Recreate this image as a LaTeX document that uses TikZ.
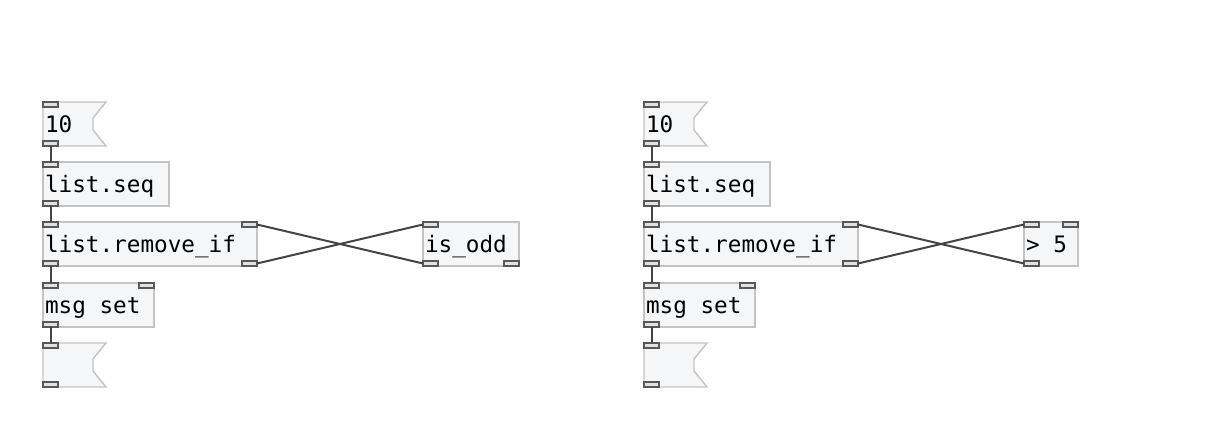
\documentclass[tikz,border=0pt]{standalone}
\usepackage{fontspec}
\setmonofont{DejaVu Sans Mono}
\usetikzlibrary{backgrounds}
\definecolor{boxfill}{HTML}{F5F6F8}
\definecolor{boxline}{HTML}{C4C4C4}
\definecolor{portline}{HTML}{585858}
\definecolor{portfill}{HTML}{E2E2E2}
\definecolor{wirecol}{HTML}{444444}

\begin{document}
\begin{tikzpicture}[
    x=0.75pt, y=-0.75pt,
    font=\ttfamily\fontsize{17}{19}\selectfont,
    obj/.style={
      draw=boxline, fill=boxfill, line width=1.1pt, anchor=north west,
      minimum height=33pt, outer sep=0pt, inner xsep=1.5pt, inner ysep=0pt,
      text height=12.5pt, text depth=0pt, align=left, text width=#1,
      execute at begin node={\spaceskip=0pt\xspaceskip=0pt\relax},
    },
    msg/.style={obj=44.25pt, draw=none, fill=none},
    flag/.style={draw=boxline, fill=boxfill, line width=1.1pt},
    port/.style={
      draw=portline, fill=portfill, line width=1pt,
      minimum width=11.25pt, minimum height=3.75pt, inner sep=0pt, outer sep=0pt,
    },
    wire/.style={draw=wirecol, line width=1.5pt},
  ]
    \useasboundingbox (0,0) rectangle (1207,448);

    % ===== Left patch: list.remove_if with is_odd =====
    \node[msg] (lmsg) at (43,102) {10};
    \node[obj=91.5pt] (lseq) at (43,162) {list.seq};
    \node[obj=157.5pt] (lrem) at (43,222) {list.remove\_if};
    \node[obj=80.25pt] (lset) at (43,283) {msg set};
    \node[msg] (lshow) at (43,343) {};
    \node[obj=69pt] (odd) at (423,222) {is\_odd};

    % ===== Right patch: list.remove_if with > 5 =====
    \node[msg] (rmsg) at (644,102) {10};
    \node[obj=91.5pt] (rseq) at (644,162) {list.seq};
    \node[obj=157.5pt] (rrem) at (644,222) {list.remove\_if};
    \node[obj=80.25pt] (rset) at (644,283) {msg set};
    \node[msg] (rshow) at (644,343) {};
    \node[obj=37.5pt] (gt) at (1024,222) {> 5};

    % ===== Message box flags (behind text) =====
    \begin{scope}[on background layer]
      \filldraw[flag] (lmsg.north west) -- (lmsg.north east) -- ++(-13,16) -- ++(0,12) -- (lmsg.south east) -- (lmsg.south west) -- cycle;
      \filldraw[flag] (lshow.north west) -- (lshow.north east) -- ++(-13,16) -- ++(0,12) -- (lshow.south east) -- (lshow.south west) -- cycle;
      \filldraw[flag] (rmsg.north west) -- (rmsg.north east) -- ++(-13,16) -- ++(0,12) -- (rmsg.south east) -- (rmsg.south west) -- cycle;
      \filldraw[flag] (rshow.north west) -- (rshow.north east) -- ++(-13,16) -- ++(0,12) -- (rshow.south east) -- (rshow.south west) -- cycle;
    \end{scope}

    % ===== Inlets and outlets =====
    \node[port, anchor=north west] (lmsg-i0) at (lmsg.north west) {};
    \node[port, anchor=south west] (lmsg-o0) at (lmsg.south west) {};
    \node[port, anchor=north west] (lseq-i0) at (lseq.north west) {};
    \node[port, anchor=south west] (lseq-o0) at (lseq.south west) {};
    \node[port, anchor=north west] (lrem-i0) at (lrem.north west) {};
    \node[port, anchor=north east] (lrem-i1) at (lrem.north east) {};
    \node[port, anchor=south west] (lrem-o0) at (lrem.south west) {};
    \node[port, anchor=south east] (lrem-o1) at (lrem.south east) {};
    \node[port, anchor=north west] (lset-i0) at (lset.north west) {};
    \node[port, anchor=north east] (lset-i1) at (lset.north east) {};
    \node[port, anchor=south west] (lset-o0) at (lset.south west) {};
    \node[port, anchor=north west] (lshow-i0) at (lshow.north west) {};
    \node[port, anchor=south west] (lshow-o0) at (lshow.south west) {};
    \node[port, anchor=north west] (odd-i0) at (odd.north west) {};
    \node[port, anchor=south west] (odd-o0) at (odd.south west) {};
    \node[port, anchor=south east] (odd-o1) at (odd.south east) {};

    \node[port, anchor=north west] (rmsg-i0) at (rmsg.north west) {};
    \node[port, anchor=south west] (rmsg-o0) at (rmsg.south west) {};
    \node[port, anchor=north west] (rseq-i0) at (rseq.north west) {};
    \node[port, anchor=south west] (rseq-o0) at (rseq.south west) {};
    \node[port, anchor=north west] (rrem-i0) at (rrem.north west) {};
    \node[port, anchor=north east] (rrem-i1) at (rrem.north east) {};
    \node[port, anchor=south west] (rrem-o0) at (rrem.south west) {};
    \node[port, anchor=south east] (rrem-o1) at (rrem.south east) {};
    \node[port, anchor=north west] (rset-i0) at (rset.north west) {};
    \node[port, anchor=north east] (rset-i1) at (rset.north east) {};
    \node[port, anchor=south west] (rset-o0) at (rset.south west) {};
    \node[port, anchor=north west] (rshow-i0) at (rshow.north west) {};
    \node[port, anchor=south west] (rshow-o0) at (rshow.south west) {};
    \node[port, anchor=north west] (gt-i0) at (gt.north west) {};
    \node[port, anchor=north east] (gt-i1) at (gt.north east) {};
    \node[port, anchor=south west] (gt-o0) at (gt.south west) {};

    % ===== Wires =====
    \draw[wire] (lmsg-o0.south) -- (lseq-i0.north);
    \draw[wire] (lseq-o0.south) -- (lrem-i0.north);
    \draw[wire] (lrem-o0.south) -- (lset-i0.north);
    \draw[wire] (lset-o0.south) -- (lshow-i0.north);
    \draw[wire] (lrem-o1.east) -- (odd-i0.west);
    \draw[wire] (odd-o0.west) -- (lrem-i1.east);

    \draw[wire] (rmsg-o0.south) -- (rseq-i0.north);
    \draw[wire] (rseq-o0.south) -- (rrem-i0.north);
    \draw[wire] (rrem-o0.south) -- (rset-i0.north);
    \draw[wire] (rset-o0.south) -- (rshow-i0.north);
    \draw[wire] (rrem-o1.east) -- (gt-i0.west);
    \draw[wire] (gt-o0.west) -- (rrem-i1.east);

  \end{tikzpicture}
\end{document}
